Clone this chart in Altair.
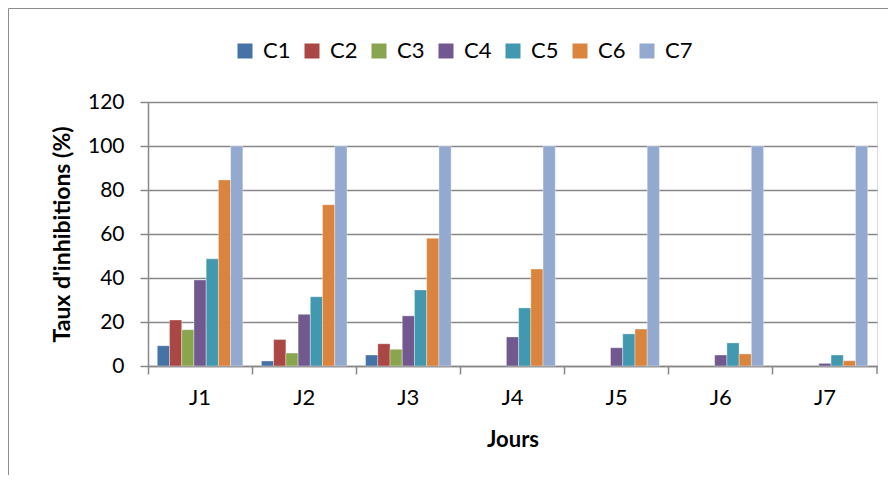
import altair as alt
import pandas as pd

jours = ["J1", "J2", "J3", "J4", "J5", "J6", "J7"]
series = ["C1", "C2", "C3", "C4", "C5", "C6", "C7"]
c1 = [9.2, 2.3, 5.0, 0, 0, 0, 0]
c2 = [20.9, 12.0, 10.1, 0, 0, 0, 0]
c3 = [16.5, 5.9, 7.6, 0, 0, 0, 0]
c4 = [39.1, 23.5, 22.8, 13.2, 8.3, 5.0, 1.2]
c5 = [48.7, 31.5, 34.6, 26.4, 14.6, 10.5, 5.0]
c6 = [84.6, 73.3, 58.1, 44.1, 16.8, 5.5, 2.4]
c7 = [100, 100, 100, 100, 100, 100, 100]
colors = ["#4572A7", "#AA4643", "#89A54E", "#71588F", "#4198AF", "#DB843D", "#93A9CF"]
y_ticks = [0, 20, 40, 60, 80, 100, 120]

values = [c1, c2, c3, c4, c5, c6, c7]
rows = []
for s, vals in zip(series, values):
    for j, v in zip(jours, vals):
        rows.append({"Jour": j, "Serie": s, "Valeur": v})
df = pd.DataFrame(rows)

FONT = "Lato"
GRID = "#888888"
W, H = 729, 264

bars = alt.Chart(df).transform_filter("datum.Valeur > 0").mark_bar(
    stroke="white", strokeOpacity=0.35, strokeWidth=1
).encode(
    x=alt.X("Jour:N", sort=jours,
            scale=alt.Scale(domain=jours, paddingInner=0, paddingOuter=0),
            axis=alt.Axis(title="Jours", labelAngle=0, bandPosition=0,
                          tickSize=8, tickColor=GRID, tickWidth=1.5,
                          domainColor=GRID, domainWidth=1.5,
                          labelFontSize=22, labelFont=FONT, labelColor="#000000",
                          labelPadding=13,
                          titleFontSize=22, titleFont=FONT, titleFontWeight="bold",
                          titleColor="#000000", titlePadding=21)),
    xOffset=alt.XOffset("Serie:N", sort=series,
                        scale=alt.Scale(domain=series, paddingInner=0, paddingOuter=0.76)),
    y=alt.Y("Valeur:Q", scale=alt.Scale(domain=[0, 120], nice=False),
            axis=alt.Axis(title="Taux d'inhibitions (%)", values=y_ticks,
                          tickSize=8, tickColor=GRID, tickWidth=1.5,
                          domainColor=GRID, domainWidth=1.5,
                          grid=True, gridColor=GRID, gridWidth=1.5,
                          labelFontSize=21, labelFont=FONT, labelColor="#000000",
                          labelPadding=16,
                          titleFontSize=23, titleFont=FONT, titleFontWeight="bold",
                          titleColor="#000000", titlePadding=13)),
    color=alt.Color("Serie:N", sort=series,
                    scale=alt.Scale(domain=series, range=colors),
                    legend=alt.Legend(title=None, orient="none", direction="horizontal",
                                      legendX=86, legendY=-62,
                                      symbolType="square", symbolSize=225,
                                      symbolStrokeWidth=0,
                                      labelFontSize=22, labelFont=FONT,
                                      labelColor="#000000", labelOffset=7,
                                      columnPadding=10, padding=0)),
)

end_tick = alt.Chart(alt.Data(values=[{}])).mark_rule(color=GRID, strokeWidth=1.5).encode(
    x=alt.value(W), y=alt.value(H), y2=alt.value(H + 8)
)

border = alt.Chart(alt.Data(values=[{}])).mark_rect(
    fillOpacity=0, stroke="#8c8c8c", strokeWidth=1
).encode(
    x=alt.value(-139.5), x2=alt.value(W + 60), y=alt.value(-93.5), y2=alt.value(H + 140)
)

chart = alt.layer(border, bars, end_tick).properties(
    width=W, height=H,
    autosize=alt.AutoSizeParams(type="none"),
    padding={"left": 140, "top": 94, "right": 11, "bottom": 109},
).configure_view(stroke=None).configure(font=FONT)

chart.save("out.html", embed_options={"renderer": "svg", "actions": False})
